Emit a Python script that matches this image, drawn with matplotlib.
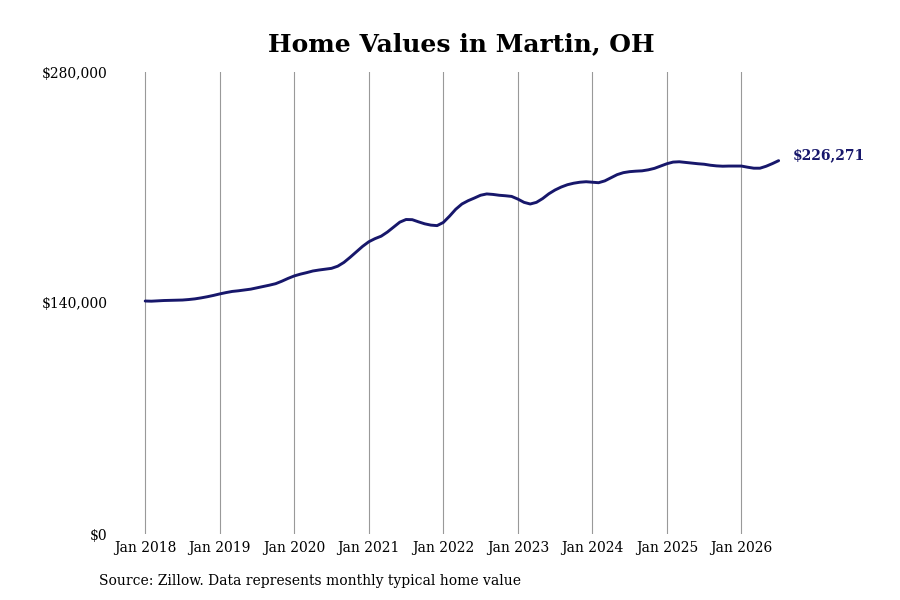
import numpy as np
import matplotlib.pyplot as plt

plt.rcParams["font.family"] = "DejaVu Serif"

# monthly typical home value, Jan 2018 - Jul 2026
values = [
    141200, 141100, 141300, 141500, 141600, 141700, 141800, 142100, 142500, 143100, 143800, 144600,  # 2018
    145500, 146300, 147000, 147400, 147900, 148400, 149200, 150000, 150800, 151700, 153200, 154900,  # 2019
    156400, 157500, 158400, 159400, 160000, 160500, 161000, 162300, 164600, 167700, 171000, 174300,  # 2020
    177100, 179000, 180500, 183000, 186000, 189000, 190600, 190500, 189200, 188000, 187200, 186900,  # 2021
    188800, 192600, 196800, 200000, 202000, 203600, 205300, 206100, 205800, 205300, 205000, 204600,  # 2022
    203000, 201000, 200000, 201000, 203300, 206200, 208500, 210300, 211700, 212600, 213200, 213500,  # 2023
    213200, 212900, 214000, 215900, 217800, 219000, 219600, 219900, 220100, 220700, 221600, 223000,  # 2024
    224400, 225400, 225600, 225200, 224800, 224400, 224100, 223500, 223100, 222900, 223000, 223000,  # 2025
    223000, 222300, 221700, 221700, 222900, 224500, 226271,                                          # 2026
]
tick_labels = ["Jan 2018", "Jan 2019", "Jan 2020", "Jan 2021", "Jan 2022",
               "Jan 2023", "Jan 2024", "Jan 2025", "Jan 2026"]
y_ticks = [0, 140000, 280000]
y_labels = ["$0", "$140,000", "$280,000"]

months = np.arange(len(values))
line_color = "#17176b"

fig = plt.figure(figsize=(9, 6), dpi=100)
ax = fig.add_axes([116/900, 66/600, 685/900, 462/600])

ax.plot(months, values, color=line_color, linewidth=2.1, solid_capstyle="round")
ax.annotate("${:,}".format(values[-1]), xy=(months[-1], values[-1]),
            xytext=(10, 4), textcoords="offset points", ha="left", va="center",
            fontsize=10, fontweight="bold", color=line_color)

ax.set_xlim(-4.7, 105.6)
ax.set_ylim(0, 280000)
ax.set_xticks(np.arange(0, len(values), 12))
ax.set_xticklabels(tick_labels, fontsize=10)
ax.set_yticks(y_ticks)
ax.set_yticklabels(y_labels, fontsize=10)
ax.tick_params(length=0, pad=6)
ax.tick_params(axis="x", pad=5)
ax.grid(axis="x", color="#999999", linewidth=0.8)
for s in ax.spines.values():
    s.set_visible(False)

fig.text(461/900, 1 - 44/600, "Home Values in Martin, OH", ha="center", va="center",
         fontsize=18, fontweight="bold")
fig.text(99/900, 1 - 581/600, "Source: Zillow. Data represents monthly typical home value",
         ha="left", va="center", fontsize=10)

fig.savefig("out.png", dpi=100)
